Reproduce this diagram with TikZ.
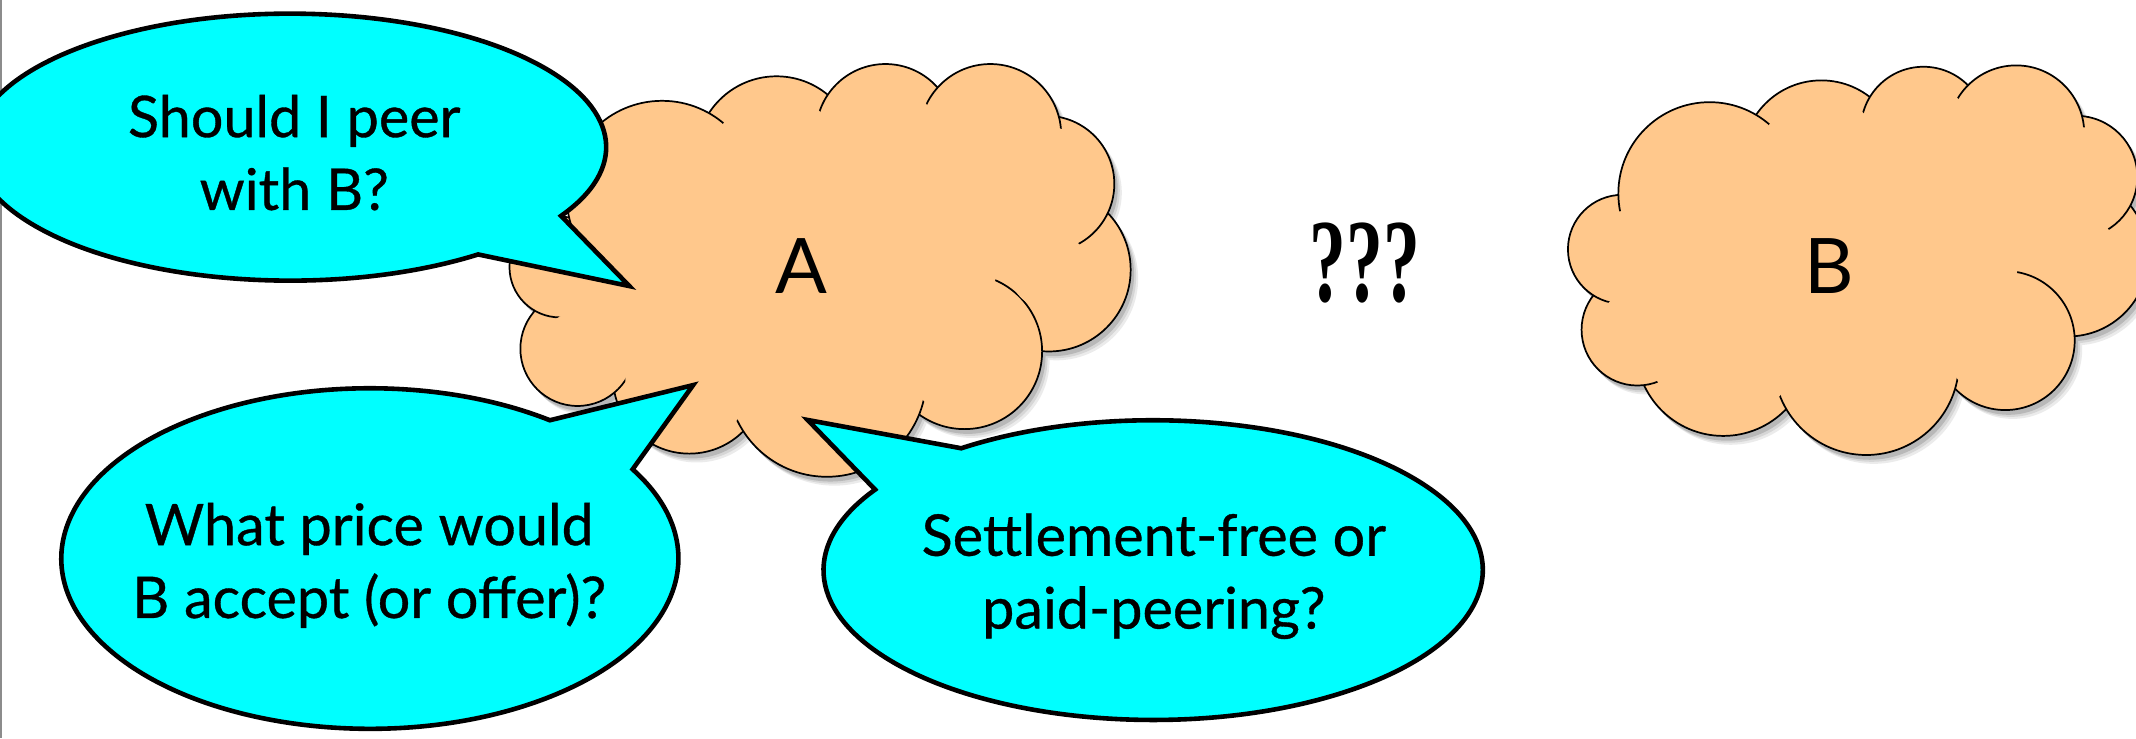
\documentclass[tikz,border=0pt]{standalone}
\usepackage{fontspec}
\setmainfont{Lato}
\newfontfamily\bubblefont{Lato}[FakeBold=0.6]
\newfontfamily\qfont{Liberation Serif}
\definecolor{cloudfill}{RGB}{255,200,140}
\definecolor{bubblecyan}{RGB}{0,255,255}
\tikzset{
  puff/.style={fill=cloudfill, draw=black, line width=0.9pt},
  bubble/.style={fill=bubblecyan, draw=black, line width=2.4pt, line join=miter, miter limit=20},
  bubbletext/.style={font=\bubblefont\fontsize{30}{38}\selectfont, align=center, text=black, inner sep=0pt},
  cloudlabel/.style={font=\fontsize{40}{48}\selectfont, inner sep=0pt}
}
\newcommand{\mycloud}[2]{%
  \foreach \sx/\sy/\sc in {5.5/6.5/black!8, 4/5/black!16, 2.5/3.5/black!28}{
    \foreach \x/\y/\r/\d in {#1}{ \fill[\sc] (\x+\sx,\y+\sy) circle (\r); }
  }
  \foreach \x/\y/\r/\d in {#1}{ \draw[puff] (\x,\y) circle (\r); }
  \fill[cloudfill] #2;
  \foreach \x/\y/\r/\d in {#1}{ \fill[cloudfill] (\x,\y) circle ({\r-\d}); }
}
\begin{document}
\begin{tikzpicture}[x=0.025cm,y=-0.025cm]
\useasboundingbox (0,0) rectangle (1568,542);
\clip (0,0) rectangle (1568,542);
\draw[black!45, line width=0.8pt] (0.6,0) -- (0.6,542);

% cloud A
\mycloud{570/115/59/13, 650/98/51/14, 770/198/60/31, 768/135/50/8, 727/99/52/10,
  708/258/57/10, 506/277/56/9, 607/277/73/10, 424/256/42/15, 411/196/37/10, 486/144/70/10}
 {(486,144) -- (570,115) -- (650,98) -- (727,99) -- (768,135) -- (750,178) -- (733,200) -- (708,258) -- (607,277) -- (506,277) -- (424,256) -- (411,196) -- cycle}
\node[cloudlabel] (labelA) at (588,195) {A};

% cloud B
\mycloud{1337/117/58/12, 1412/95/46/12, 1518/188/59/59, 1524/130/45/8, 1480/98/50/10,
  1472/250/51/6, 1265/256/64/10, 1370/266/68/10, 1202/242/41/12, 1191/183/40/12, 1255/142/67/10}
 {(1255,142) -- (1337,117) -- (1412,95) -- (1480,98) -- (1524,130) -- (1550,172) -- (1482,192) -- (1472,250) -- (1370,266) -- (1265,256) -- (1202,242) -- (1191,183) -- cycle}
\node[cloudlabel] (labelB) at (1343,195) {B};

\node[font=\qfont\bfseries\fontsize{62}{66}\selectfont, inner sep=0pt] (qqq) at (1002,193) {\scalebox{0.62}[1]{???}};

% bubbles
\draw[bubble] (213,108) ++(53.5:232 and 98) arc[start angle=53.5, end angle=391, x radius=232, y radius=98] -- (462,210) -- cycle;
\node[bubbletext] (q1) at (216,112) {Should I peer\\with B?};

\draw[bubble] (271.5,410) ++(-31.6:226.5 and 125) arc[start angle=-31.6, end angle=305.7, x radius=226.5, y radius=125] -- (508.8,282.7) -- cycle;
\node[bubbletext] (q2) at (271,415) {What price would\\B accept (or offer)?};

\draw[bubble] (846.5,418.5) ++(234.4:242 and 110) arc[start angle=234.4, end angle=572.5, x radius=242, y radius=110] -- (592.9,308.3) -- cycle;
\node[bubbletext] (q3) at (847,423) {Settlement-free or\\paid-peering?};
\end{tikzpicture}
\end{document}
